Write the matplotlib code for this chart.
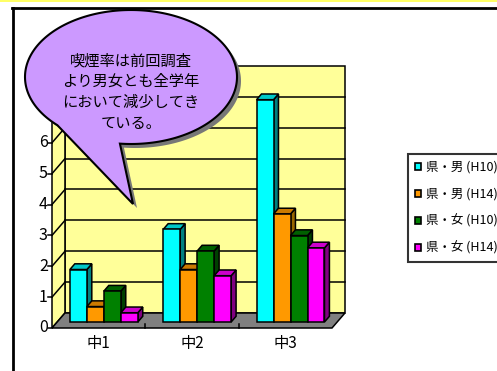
import numpy as np
import matplotlib.pyplot as plt
from matplotlib.patches import Rectangle, Polygon, PathPatch, Patch
from matplotlib.path import Path

plt.rcParams['font.family'] = ['Noto Sans CJK JP', 'DejaVu Sans']

grades = ['中1', '中2', '中3']
series = ['県・男 (H10)', '県・男 (H14)', '県・女 (H10)', '県・女 (H14)']
male_h10 = [1.7, 3.0, 7.2]
male_h14 = [0.5, 1.7, 3.5]
female_h10 = [1.0, 2.3, 2.8]
female_h14 = [0.3, 1.5, 2.4]
values = [male_h10, male_h14, female_h10, female_h14]
yticks = list(range(0, 9))
note = '喫煙率は前回調査\nより男女とも全学年\nにおいて減少してき\nている。'

face_c = ['#00ffff', '#ff9900', '#008000', '#ff00ff']
top_c = ['#00c8c8', '#cc7a00', '#006000', '#cc00cc']
side_c = ['#008080', '#996600', '#004000', '#800080']

W, H = 497, 371
fig = plt.figure(figsize=(W / 100, H / 100), dpi=100)

# chart area: front plane of the 3d box
ax = fig.add_axes([52 / W, (H - 328) / H, 280 / W, (328 - 81) / H])
xlo, xhi = -0.5, 2.5
ymax = 8
ax.set_xlim(xlo, xhi)
ax.set_ylim(0, ymax)
ax.axis('off')

DX, DY = 0.139, 0.486      # depth vector of the box
f0, f1 = 0.4, 0.78         # bar depth range
bw = 0.182
lw = 1.1

def poly(pts, fc, z=1):
    ax.add_patch(Polygon(pts, closed=True, facecolor=fc, edgecolor='k',
                         lw=lw, clip_on=False, zorder=z))

# walls and floor
poly([(xlo + DX, DY), (xhi + DX, DY), (xhi + DX, ymax + DY), (xlo + DX, ymax + DY)], '#ffff99')
poly([(xlo, 0), (xlo + DX, DY), (xlo + DX, ymax + DY), (xlo, ymax)], '#ffff99')
for k in yticks[1:-1]:
    ax.plot([xlo + DX, xhi + DX], [k + DY, k + DY], color='k', lw=lw, clip_on=False, zorder=1.5)
    ax.plot([xlo, xlo + DX], [k, k + DY], color='k', lw=lw, clip_on=False, zorder=1.5)
poly([(xlo, 0), (xhi, 0), (xhi + DX, DY), (xlo + DX, DY)], '#808080', z=2)

# y ticks and labels
for k in yticks:
    ax.plot([xlo - 0.04, xlo], [k, k], color='k', lw=lw, clip_on=False, zorder=2)
    ax.text(xlo - 0.045, k, str(k), ha='right', va='center', fontsize=11.5, zorder=2)
for c in [0.5, 1.5]:
    ax.plot([c, c], [0, 0.12], color='k', lw=lw, clip_on=False, zorder=2)
for i, g in enumerate(grades):
    ax.text(i, -0.5, g, ha='center', va='center', fontsize=11)

# bars
sd = f1 - f0
z = 3
for i in range(len(grades)):
    for j, vals in enumerate(values):
        v = vals[i]
        x0 = i - 2 * bw + j * bw + f0 * DX
        y0 = f0 * DY
        poly([(x0 + bw, y0), (x0 + bw + sd * DX, y0 + sd * DY),
              (x0 + bw + sd * DX, y0 + v + sd * DY), (x0 + bw, y0 + v)], side_c[j], z)
        poly([(x0, y0 + v), (x0 + bw, y0 + v), (x0 + bw + sd * DX, y0 + v + sd * DY),
              (x0 + sd * DX, y0 + v + sd * DY)], top_c[j], z)
        ax.add_patch(Rectangle((x0, y0), bw, v, facecolor=face_c[j], edgecolor='k',
                               lw=lw, clip_on=False, zorder=z))
        z += 0.01

# overlay in pixel units for frame and speech bubble
ov = fig.add_axes([0, 0, 1, 1])
ov.set_xlim(0, W)
ov.set_ylim(H, 0)
ov.axis('off')
ov.add_patch(Rectangle((0, 0), W, 2, color='#ffff66', lw=0))
ov.plot([12, W], [8, 8], color='k', lw=2)
ov.plot([13, 13], [8, H], color='k', lw=2)

cx, cy, a, b = 131, 77, 106, 67
t = np.radians(np.linspace(96, 134 - 360, 200))
pts = np.column_stack([cx + a * np.cos(t), cy + b * np.sin(t)])
pts = np.vstack([pts, [[133, 204]], pts[:1]])
codes = [Path.MOVETO] + [Path.LINETO] * (len(pts) - 2) + [Path.CLOSEPOLY]
ov.add_patch(PathPatch(Path(pts + [4, 4], codes), facecolor='#777777', lw=0))
ov.add_patch(PathPatch(Path(pts, codes), facecolor='#cc99ff', edgecolor='k', lw=1.5))
ov.text(cx, 92, note, ha='center', va='center', fontsize=11, linespacing=1.3)

handles = [Patch(facecolor=c, edgecolor='k', lw=1.2) for c in face_c]
leg = fig.legend(handles, series, loc='upper left', bbox_to_anchor=(408 / W, 1 - 154 / H),
                 fontsize=9, frameon=True, fancybox=False, edgecolor='k',
                 handlelength=0.5, handleheight=0.5, handletextpad=0.35,
                 labelspacing=1.1, borderpad=0.55, borderaxespad=0)
leg.get_frame().set_linewidth(1.5)

fig.savefig('out.png', dpi=100)
